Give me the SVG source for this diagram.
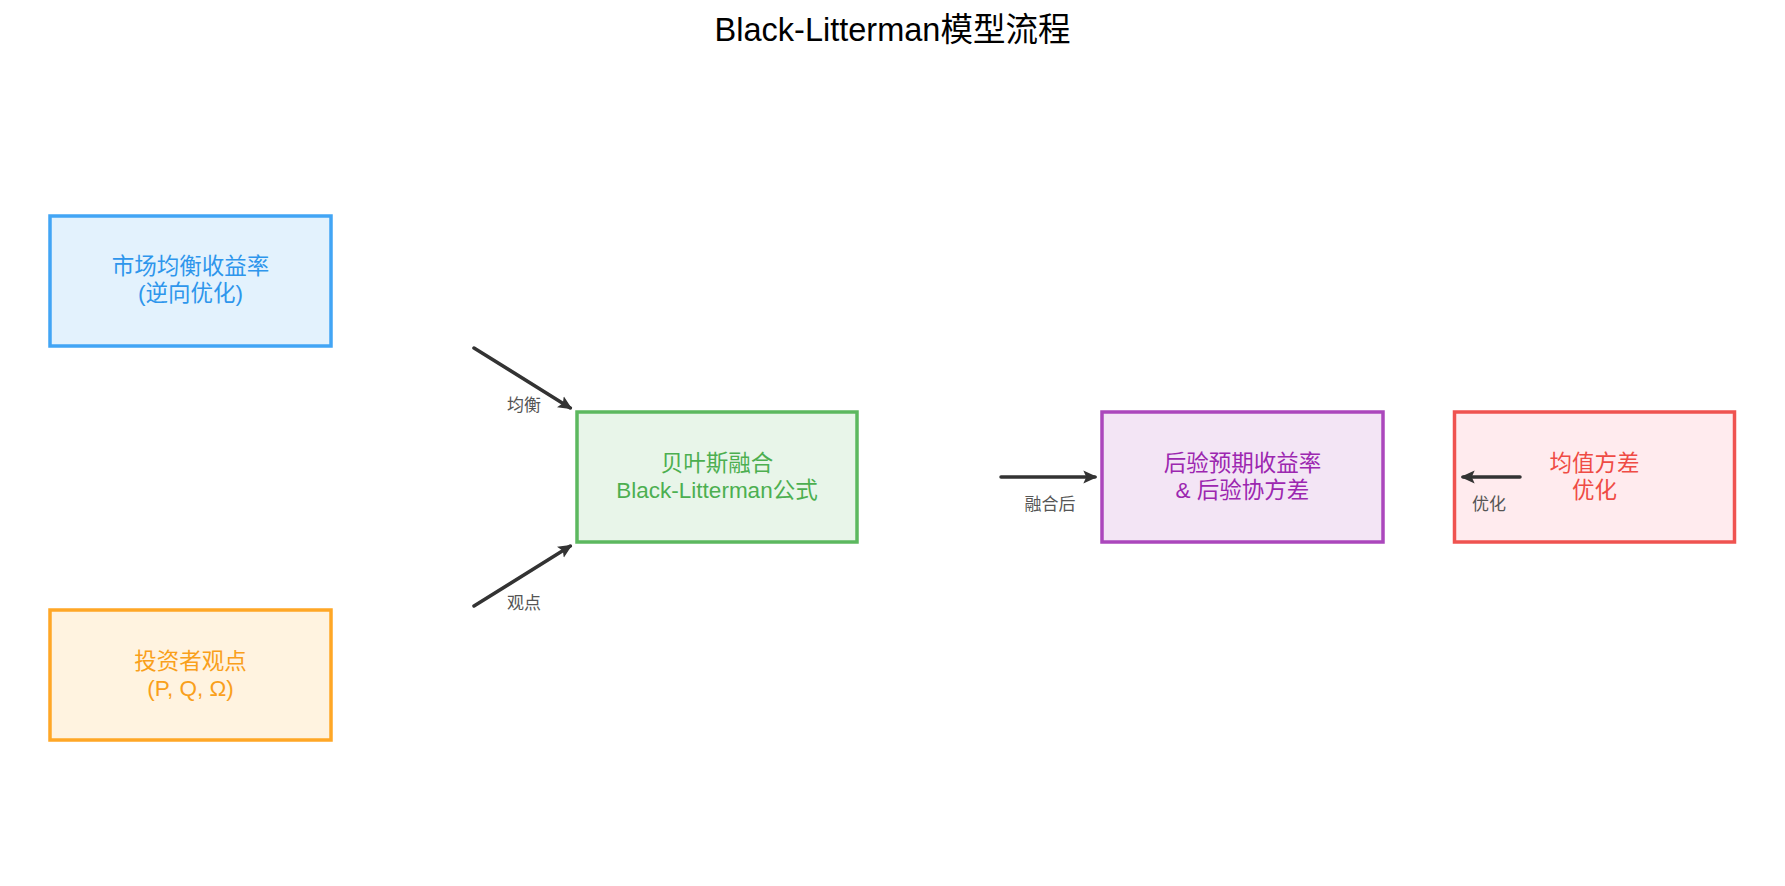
<svg xmlns="http://www.w3.org/2000/svg" width="1785" height="886" viewBox="0 0 1785 886">
<style>
text{font-family:"Liberation Sans","Noto Sans CJK SC",sans-serif;text-anchor:middle}
.title{font-size:32.5px;fill:#000}
.box{stroke-width:3.5}
.bt{font-size:22.5px}
.lbl{font-size:17px;fill:#555}
.conn{stroke:#333;stroke-width:3.5;stroke-linecap:round;fill:none}
</style>
<defs>
<marker id="ah" markerUnits="userSpaceOnUse" markerWidth="14" markerHeight="14" viewBox="0 0 12 12" refX="10" refY="6" orient="auto">
<path d="M0,0.5 L12,6 L0,11.5 L2.5,6 z" fill="#333"/>
</marker>
</defs>
<rect width="1785" height="886" fill="#fff"/>
<text class="title" x="892.5" y="41">Black-Litterman模型流程</text>
<g id="market">
<rect class="box" x="50" y="216" width="281" height="130" fill="#E3F2FD" stroke="#42A5F5"/>
<text class="bt" x="190.5" y="274" fill="#2E96EC">市场均衡收益率</text>
<text class="bt" x="190.5" y="301" fill="#2E96EC">(逆向优化)</text>
</g>
<g id="views">
<rect class="box" x="50" y="610" width="281" height="130" fill="#FFF3E0" stroke="#FFA726"/>
<text class="bt" x="190.5" y="668.5" fill="#F9A01B">投资者观点</text>
<text class="bt" x="190.5" y="695.5" fill="#F9A01B">(P, Q, Ω)</text>
</g>
<g id="bayes">
<rect class="box" x="577" y="412" width="280" height="130" fill="#E8F5E9" stroke="#5CB85F"/>
<text class="bt" x="717" y="470.5" fill="#4CAF50">贝叶斯融合</text>
<text class="bt" x="717" y="497.5" fill="#4CAF50">Black-Litterman公式</text>
</g>
<g id="posterior">
<rect class="box" x="1102" y="412" width="281" height="130" fill="#F3E5F5" stroke="#AB47BC"/>
<text class="bt" x="1242.5" y="470.5" fill="#9C27B0">后验预期收益率</text>
<text class="bt" x="1242.5" y="497.5" fill="#9C27B0">&amp; 后验协方差</text>
</g>
<g id="meanvar">
<rect class="box" x="1454.5" y="412" width="280" height="130" fill="#FFEBEE" stroke="#EF5350"/>
<text class="bt" x="1594.5" y="470.5" fill="#EF4B45">均值方差</text>
<text class="bt" x="1594.5" y="497.5" fill="#EF4B45">优化</text>
</g>
<g id="connectors">
<line class="conn" x1="474" y1="348" x2="570.3" y2="407.9" marker-end="url(#ah)"/>
<text class="lbl" x="524" y="411">均衡</text>
<line class="conn" x1="474" y1="606" x2="570.3" y2="546.1" marker-end="url(#ah)"/>
<text class="lbl" x="524" y="609">观点</text>
<line class="conn" x1="1001" y1="477" x2="1095" y2="477" marker-end="url(#ah)"/>
<text class="lbl" x="1050" y="510">融合后</text>
<line class="conn" x1="1520" y1="477" x2="1463" y2="477" marker-end="url(#ah)"/>
<text class="lbl" x="1489" y="510">优化</text>
</g>
</svg>
